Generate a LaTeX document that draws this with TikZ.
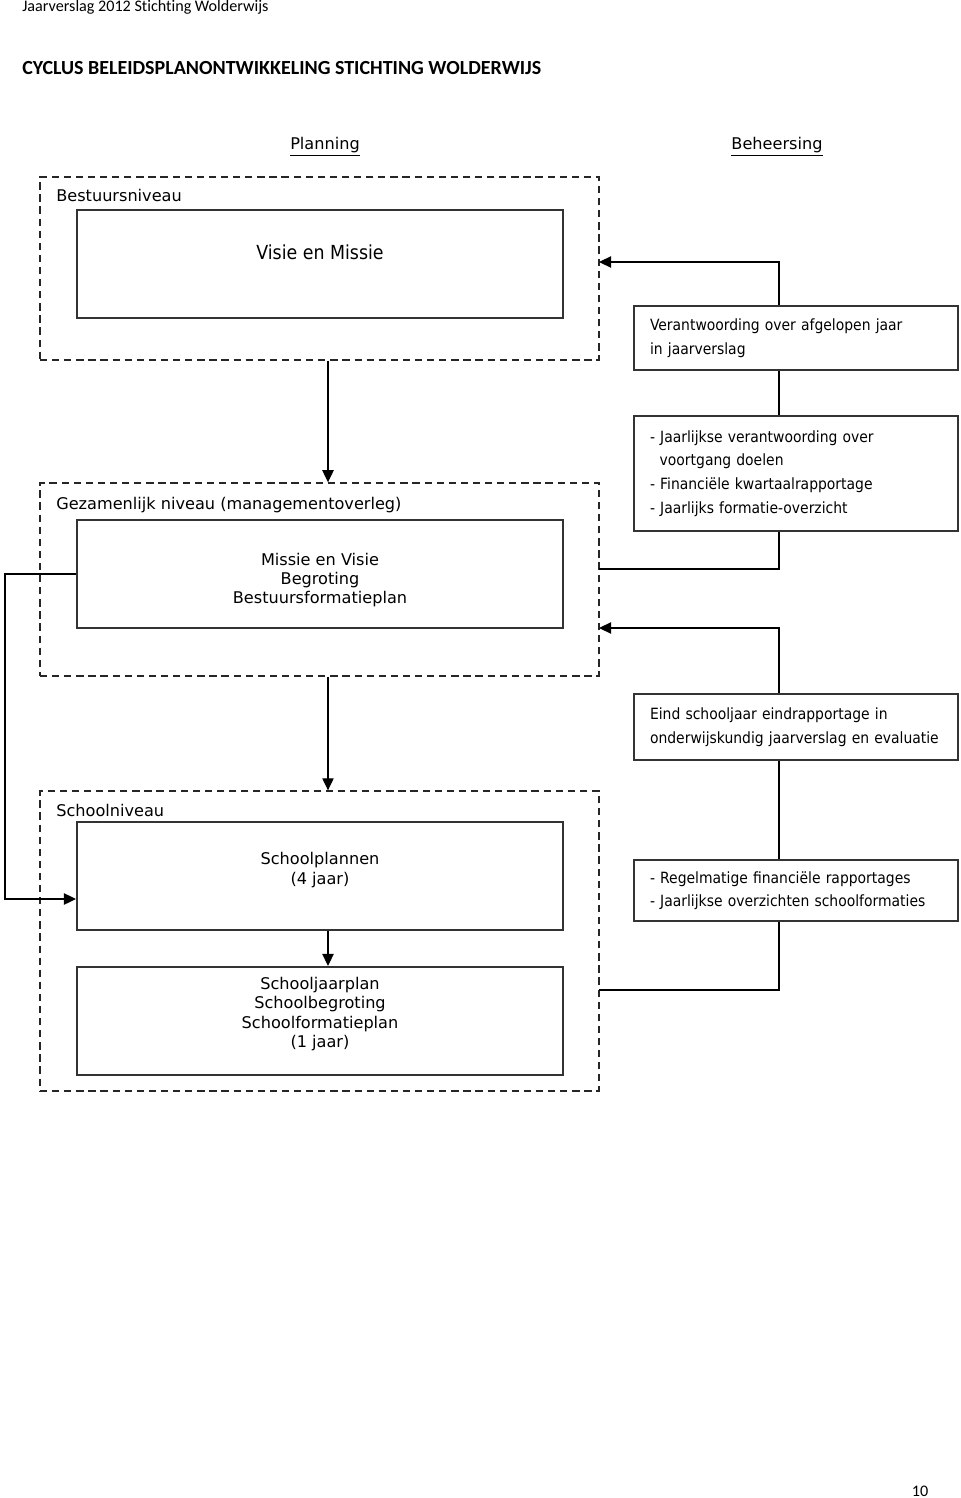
\documentclass[tikz,border=0pt]{standalone}
\usepackage{fontspec}
\usepackage{tikz}
\usetikzlibrary{arrows.meta}
\newfontfamily\hdfont[Ligatures=NoCommon]{Carlito}
\newfontfamily\vdfont{DejaVu Sans}
\newfontfamily\cdfont{DejaVu Sans Condensed}

\begin{document}
\begin{tikzpicture}[x=0.62pt,y=-0.62pt]
	\tikzstyle{frame}=[draw=black!85,line width=0.8pt,dash pattern=on 4.5pt off 3pt,minimum width=346.6pt]
	\tikzstyle{plan}=[draw=black!80,line width=1.2pt,minimum width=301.3pt,minimum height=67pt]
	\tikzstyle{ctrl}=[draw=black!80,line width=1.2pt,minimum width=200.9pt,text width=181pt,inner xsep=9.9pt,align=left,font=\cdfont\fontsize{9.6}{14.6}\selectfont]
	\tikzstyle{txt}=[font=\vdfont\fontsize{10}{12}\selectfont,align=center,inner sep=0pt]
	\tikzstyle{lvl}=[font=\vdfont\fontsize{10}{12}\selectfont,anchor=west,inner sep=0pt]
	\tikzstyle{arr}=[line width=0.9pt,-{Triangle[length=7.5pt,width=7pt]}]
	\tikzstyle{con}=[line width=0.9pt]
	\useasboundingbox (0,0) rectangle (960,1498);
	
	% kop van de pagina
	\node[font=\hdfont\fontsize{10}{12}\selectfont,anchor=west,inner sep=0pt](kop) at (22,7){Jaarverslag 2012 Stichting Wolderwijs};
	\node[font=\hdfont\bfseries\fontsize{12.4}{14}\selectfont,anchor=west,inner sep=0pt](titel) at (22,68){CYCLUS BELEIDSPLANONTWIKKELING STICHTING WOLDERWIJS};
	\node[txt](planning) at (325,147){\underline{Planning}};
	\node[txt](beheersing) at (777,147){\underline{Beheersing}};
	
	% planning
	\node[frame,minimum height=113.5pt](bestuur) at (319.5,268.5){};
	\node[lvl](lbestuur) at (56,195){Bestuursniveau};
	\node[plan](visie) at (320,264){};
	\node[txt,font=\cdfont\fontsize{12}{14}\selectfont](tvisie) at (320,252){Visie en Missie};
	
	\node[frame,minimum height=119.7pt](gezamenlijk) at (319.5,579.5){};
	\node[lvl](lgezamenlijk) at (56,505){Gezamenlijk niveau (managementoverleg)};
	\node[plan](missie) at (320,574){};
	\node[txt](tmissie) at (320,580){Missie en Visie\\Begroting\\Bestuursformatieplan};
	
	\node[frame,minimum height=186pt](school) at (319.5,941){};
	\node[lvl](lschool) at (56,810){Schoolniveau};
	\node[plan](schoolplan) at (320,876){};
	\node[txt](tschoolplan) at (320,870){Schoolplannen\\(4 jaar)};
	\node[plan](jaarplan) at (320,1021){};
	\node[txt](tjaarplan) at (320,1014){Schooljaarplan\\Schoolbegroting\\Schoolformatieplan\\(1 jaar)};
	
	% beheersing
	\node[ctrl,minimum height=39.7pt](verantw) at (796,338){Verantwoording over afgelopen jaar\\in jaarverslag};
	\node[ctrl,minimum height=71.3pt](jaarlijks) at (796,473.5){- Jaarlijkse verantwoording over\\\hspace*{6pt}voortgang doelen\\- Financi\"ele kwartaalrapportage\\- Jaarlijks formatie-overzicht};
	\node[ctrl,minimum height=40.9pt](eind) at (796,727){Eind schooljaar eindrapportage in\\onderwijskundig jaarverslag en evaluatie};
	\node[ctrl,minimum height=37.8pt](regel) at (796,890.5){- Regelmatige financi\"ele rapportages\\- Jaarlijkse overzichten schoolformaties};
	
	\node[txt](pagina) at (920,1491){\hdfont 10};
	
	\coordinate (mid) at (328,0);
	\coordinate (rx) at (779,0);
	\coordinate (lb) at (5,899);
	\coordinate (k1) at (599,262);
	\coordinate (k2) at (599,569);
	\coordinate (k3) at (599,628);
	\coordinate (k4) at (599,990);
	
	\draw[arr] (bestuur.south -| mid) -- (gezamenlijk.north -| mid);
	\draw[arr] (gezamenlijk.south -| mid) -- (school.north -| mid);
	\draw[arr] (schoolplan.south -| mid) -- (jaarplan.north -| mid);
	\draw[arr] (missie.west) -| (lb) -- (lb -| schoolplan.west);
	
	\draw[arr] (verantw.north -| rx) |- (k1);
	\draw[con] (verantw.south -| rx) -- (jaarlijks.north -| rx);
	\draw[con] (jaarlijks.south -| rx) |- (k2);
	\draw[arr] (eind.north -| rx) |- (k3);
	\draw[con] (eind.south -| rx) -- (regel.north -| rx);
	\draw[con] (regel.south -| rx) |- (k4);
	
\end{tikzpicture}
\end{document}
